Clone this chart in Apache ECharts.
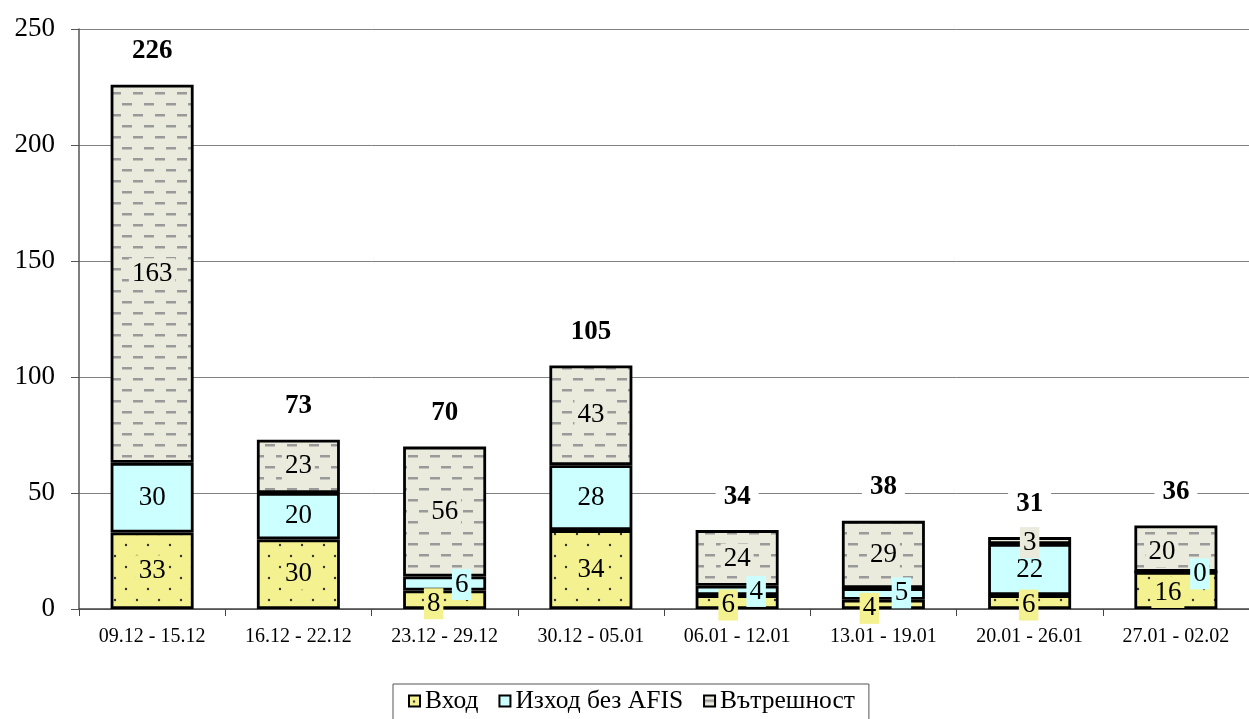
<!DOCTYPE html>
<html>
<head>
<meta charset="utf-8">
<script src="https://cdn.jsdelivr.net/npm/echarts@6/dist/echarts.min.js"></script>
<style>
html,body{margin:0;padding:0;background:#fff;}
#chart{width:1249px;height:719px;}
</style>
</head>
<body>
<div id="chart"></div>
<script>
// ---- data ----
const categories = ['09.12 - 15.12','16.12 - 22.12','23.12 - 29.12','30.12 - 05.01','06.01 - 12.01','13.01 - 19.01','20.01 - 26.01','27.01 - 02.02'];
const seriesNames = ['Вход','Изход без AFIS','Вътрешност'];
const vhod = [33, 30, 8, 34, 6, 4, 6, 16];
const izhod = [30, 20, 6, 28, 4, 5, 22, 0];
const vatreshnost = [163, 23, 56, 43, 24, 29, 3, 20];
const yTicks = [0, 50, 100, 150, 200, 250];

const totals = categories.map((c, i) => vhod[i] + izhod[i] + vatreshnost[i]);

// ---- patterns ----
function dotPattern(bg) {
  const c = document.createElement('canvas');
  c.width = 22; c.height = 22;
  const g = c.getContext('2d');
  g.fillStyle = bg; g.fillRect(0, 0, 22, 22);
  g.fillStyle = '#333';
  g.beginPath(); g.arc(5, 6, 1.2, 0, Math.PI * 2); g.fill();
  g.beginPath(); g.arc(16, 17, 1.2, 0, Math.PI * 2); g.fill();
  return c;
}
function dashPattern(bg) {
  const c = document.createElement('canvas');
  c.width = 22; c.height = 22;
  const g = c.getContext('2d');
  g.fillStyle = bg; g.fillRect(0, 0, 22, 22);
  g.fillStyle = '#9a9a9a';
  g.fillRect(1, 4, 10, 2.5);
  g.fillRect(12, 15, 10, 2.5);
  return c;
}
const C_VHOD = '#f4f191', C_IZHOD = '#ccffff', C_VAT = '#eaebdd';

// label offsets for small segments (style only)
const offs = {
  0: {2: [-11, 4], 4: [-9, 3], 5: [-14, 4], 6: [-1, 3], 7: [-8, 2]},
  1: {2: [17, 1], 4: [19, 1], 5: [18, -1], 7: [24, 2]},
  2: {6: [0, 2], 7: [-14, 3], 4: [0, 1]}
};

const font = "'Liberation Serif','Times New Roman',serif";

function mkSeries(idx, name, values, fill, labelBg) {
  return {
    name: name,
    type: 'bar',
    stack: 'total',
    barWidth: 83,
    data: values.map((v, i) => {
      const o = offs[idx][i];
      const d = {value: v};
      if (o) d.label = {offset: o};
      return d;
    }),
    itemStyle: {
      color: fill,
      borderColor: '#000',
      borderWidth: 2.8
    },
    label: {
      show: true,
      position: 'inside',
      color: '#000',
      fontFamily: font,
      fontSize: 27,
      backgroundColor: labelBg,
      padding: [1, 3, 0, 3],
      lineHeight: 30
    },
    emphasis: {disabled: true}
  };
}

const chart = echarts.init(document.getElementById('chart'), null, {renderer: 'canvas'});
chart.setOption({
  animation: false,
  backgroundColor: '#fff',
  textStyle: {fontFamily: font},
  grid: {left: 79, top: 29, width: 1181, height: 580, containLabel: false},
  legend: {
    data: seriesNames,
    left: 393,
    top: 684,
    icon: 'rect',
    itemWidth: 11,
    itemHeight: 11,
    itemGap: 20,
    padding: [4, 14, 6, 15],
    borderColor: '#555',
    borderWidth: 1,
    textStyle: {fontFamily: font, fontSize: 25.5, color: '#000'},
    itemStyle: {borderWidth: 2, borderColor: '#000'}
  },
  xAxis: {
    type: 'category',
    data: categories,
    axisLine: {lineStyle: {color: '#444', width: 1.5}},
    axisTick: {show: true, length: 7, lineStyle: {color: '#444'}},
    axisLabel: {color: '#000', fontFamily: font, fontSize: 20, margin: 18, interval: 0}
  },
  yAxis: {
    type: 'value',
    min: 0, max: 250, interval: 50,
    axisLine: {show: true, lineStyle: {color: '#555', width: 1.5}},
    axisTick: {show: true, length: 8, lineStyle: {color: '#555'}},
    axisLabel: {color: '#000', fontFamily: font, fontSize: 27, margin: 24,
      formatter: v => yTicks.includes(v) ? String(v) : ''},
    splitLine: {show: true, lineStyle: {color: '#808080', width: 1}}
  },
  series: [
    mkSeries(0, seriesNames[0], vhod, {image: dotPattern(C_VHOD), repeat: 'repeat'}, C_VHOD),
    mkSeries(1, seriesNames[1], izhod, C_IZHOD, C_IZHOD),
    mkSeries(2, seriesNames[2], vatreshnost, {image: dashPattern(C_VAT), repeat: 'repeat'}, C_VAT),
    {
      name: 'total',
      type: 'scatter',
      data: totals,
      symbolSize: 0,
      itemStyle: {color: 'rgba(0,0,0,0)', opacity: 1},
      z: 10,
      label: {
        show: true,
        position: 'top',
        distance: 18,
        color: '#000',
        opacity: 1,
        fontFamily: font,
        fontWeight: 'bold',
        fontSize: 27,
        backgroundColor: '#fff',
        padding: [2, 8, 2, 8],
        formatter: p => String(p.value)
      },
      emphasis: {disabled: true},
      silent: true
    }
  ]
});
</script>
</body>
</html>
